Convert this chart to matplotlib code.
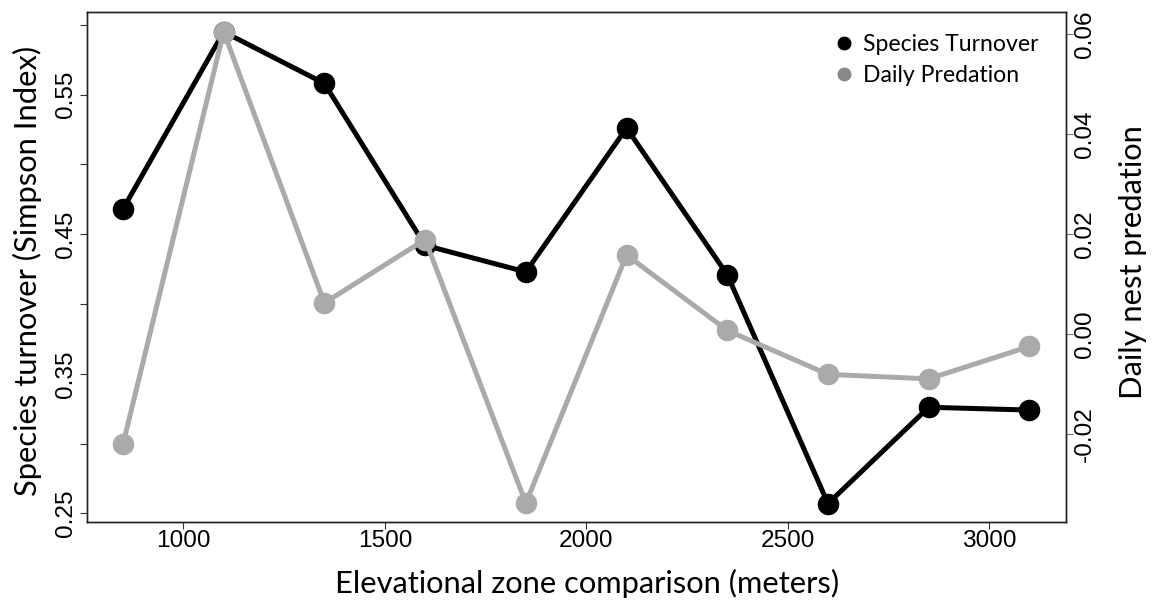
import matplotlib
matplotlib.use('Agg')
import matplotlib.pyplot as plt
from matplotlib.lines import Line2D

# ---- data ----
elevation = [850, 1100, 1350, 1600, 1850, 2100, 2350, 2600, 2850, 3100]
turnover = [0.468, 0.595, 0.558, 0.442, 0.423, 0.526, 0.421, 0.257, 0.326, 0.324]
predation = [-0.0221, 0.0605, 0.0062, 0.0189, -0.0339, 0.0158, 0.0007, -0.0081, -0.0090, -0.0025]

x_ticks = [1000, 1500, 2000, 2500, 3000]
x_labels = ['1000', '1500', '2000', '2500', '3000']
left_ticks = [0.25, 0.30, 0.35, 0.40, 0.45, 0.50, 0.55, 0.60]
left_labels = ['0.25', '', '0.35', '', '0.45', '', '0.55', '']
right_ticks = [-0.02, 0.00, 0.02, 0.04, 0.06]
right_labels = ['-0.02', '0.00', '0.02', '0.04', '0.06']

series_names = ['Species Turnover', 'Daily Predation']
xlabel = 'Elevational zone comparison (meters)'
ylabel_left = 'Species turnover (Simpson Index)'
ylabel_right = 'Daily nest predation'

plt.rcParams['font.family'] = ['Liberation Sans', 'DejaVu Sans']
label_font = 'Lato'

W, H = 1152, 605
fig = plt.figure(figsize=(W / 100, H / 100), dpi=100)
L, R, T, B = 86.7, 1065.7, 12.3, 521.7
ax = fig.add_axes([L / W, 1 - B / H, (R - L) / W, (B - T) / H])

ax.plot(elevation, turnover, color='black', lw=3.6, marker='o', ms=14.5,
        solid_joinstyle='round', zorder=3)
ax.set_xlim(760, 3190)
ax.set_ylim(0.244, 0.609)
ax.tick_params(axis='x', length=5, width=0.8, pad=1, color='#333333', labelsize=17.6)
ax.tick_params(axis='y', length=5, width=0.8, pad=2, color='#333333', labelsize=17.6)
ax.set_xticks(x_ticks)
ax.set_xticklabels(x_labels)
ax.set_yticks(left_ticks)
ax.set_yticklabels(left_labels, rotation=90, va='center')

ax2 = ax.twinx()
ax2.plot(elevation, predation, color='#aaaaaa', lw=3.6, marker='o', ms=14.5,
         solid_joinstyle='round', zorder=3)
ax2.set_ylim(-0.0376, 0.0644)
ax2.tick_params(axis='y', length=5, width=0.8, pad=1, color='#777777', labelsize=17.6)
ax2.set_yticks(right_ticks)
ax2.set_yticklabels(right_labels, rotation=90, va='center')

for a in (ax, ax2):
    for s in a.spines.values():
        s.set_linewidth(1.0)
        s.set_color('#222222')

handles = [Line2D([], [], ls='none', marker='o', ms=9, color='black'),
           Line2D([], [], ls='none', marker='o', ms=9, color='#888888')]
ax2.legend(handles, series_names, loc='upper left', bbox_to_anchor=(832 / W, 1 - 34 / H),
           bbox_transform=fig.transFigure, frameon=False,
           prop={'family': label_font, 'size': 16.6}, handletextpad=0.35,
           handlelength=1.0, labelspacing=0.45, borderpad=0, borderaxespad=0)

fig.text(587 / W, 1 - 593 / H, xlabel, ha='center', va='baseline',
         fontfamily=label_font, fontsize=22.2)
fig.text(27 / W, 1 - 271 / H, ylabel_left, ha='center', va='center', rotation=90,
         fontfamily=label_font, fontsize=22.2)
fig.text(1133 / W, 1 - 262 / H, ylabel_right, ha='center', va='center', rotation=90,
         fontfamily=label_font, fontsize=22.2)

fig.savefig('out.png', dpi=100)
